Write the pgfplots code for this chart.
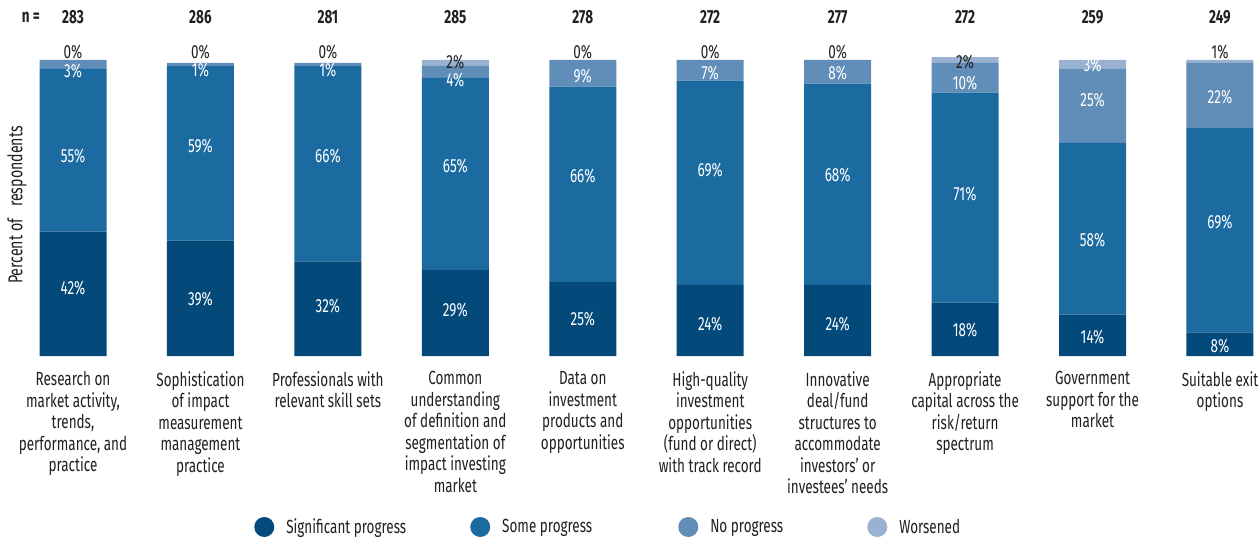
\documentclass[border=0pt]{standalone}
\usepackage{fontspec}
\setmainfont{Fira Sans}[FakeStretch=0.71]
\usepackage{pgfplots}
\usepackage{pgfplotstable}
\pgfplotsset{compat=1.18}

\definecolor{csig}{HTML}{03497A}
\definecolor{csome}{HTML}{1B6BA0}
\definecolor{cno}{HTML}{618DB9}
\definecolor{cworse}{HTML}{9AB2D1}
\definecolor{ctext}{HTML}{231F20}

\pgfplotstableread{
x sig some no worse n
0 42 55 3 0 283
1 39 59 1 0 286
2 32 66 1 0 281
3 29 65 4 2 285
4 25 66 9 0 278
5 24 69 7 0 272
6 24 68 8 0 277
7 18 71 10 2 272
8 14 58 25 3 259
9 8 69 22 1 249
}\progress

% label positions (y in percent) for the white labels inside the bars
\pgfplotstableread{
x y v
0 23.0 42
1 19.3 39
2 16.9 32
3 15.5 29
4 12.5 25
5 10.8 24
6 10.8 24
7 8.8 18
8 6.4 14
9 3.4 8
0 67.6 55
1 70.9 59
2 67.6 66
3 64.2 65
4 60.8 66
5 62.8 69
6 61.1 68
7 54.7 71
8 39.2 58
9 45.3 69
0 96.3 3
1 96.6 1
2 96.6 1
3 93.2 4
4 94.6 9
5 95.6 7
6 95.6 8
7 92.2 10
8 86.5 25
9 87.5 22
8 98.3 3
}\whitelabels

% black labels on top of the bars
\pgfplotstableread{
x y v
0 102.7 0
1 102.7 0
2 102.7 0
3 99.3 2
4 102.7 0
5 102.7 0
6 102.7 0
7 99.3 2
9 102.7 1
}\blacklabels

\pgfplotsset{
  base/.style={
    scale only axis, width=1248.96pt, height=296pt,
    at={(9.28pt,185pt)}, anchor=south west,
    xmin=-0.5, xmax=9.3, ymin=0, ymax=100,
    clip=false, axis line style={draw=none},
    ytick=\empty, major tick length=0pt,
  },
  lbl/.style={draw=none, mark=none, nodes near coords={\pgfplotspointmeta\%},
    point meta=explicit symbolic,
    every node near coord/.append style={anchor=center, font=\fontsize{19}{21}\selectfont, inner sep=0pt}},
}

\begin{document}
\begin{tikzpicture}
\useasboundingbox (0,0) rectangle (1260pt,541pt);
\begin{axis}[base,
  ybar stacked, bar width=67pt,
  xtick={0,...,9},
  xticklabels={
    {Research on\\market activity,\\trends,\\performance, and\\practice},
    {Sophistication\\of impact\\measurement\\management\\practice},
    {Professionals with\\relevant skill sets},
    {Common\\understanding\\of definition and\\segmentation of\\impact investing\\market},
    {Data on\\investment\\products and\\opportunities},
    {High-quality\\investment\\opportunities\\(fund or direct)\\with track record},
    {Innovative\\deal/fund\\structures to\\accommodate\\investors’ or\\investees’ needs},
    {Appropriate\\capital across the\\risk/return\\spectrum},
    {Government\\support for the\\market},
    {Suitable exit\\options}},
  xticklabel style={align=center, anchor=north, yshift=-12pt, text=ctext,
    font=\fontsize{19}{21.5}\selectfont},
  legend columns=4,
  legend style={draw=none, at={(0.196,-0.5777)}, anchor=west, inner sep=0pt,
    font=\fontsize{19}{21}\selectfont, text=ctext,
    /tikz/every odd column/.append style={column sep=10pt},
    /tikz/column 2/.style={column sep=62pt},
    /tikz/column 4/.style={column sep=84pt},
    /tikz/column 6/.style={column sep=82pt}},
]
\addplot[fill=csig, draw=none, legend image code/.code={\fill[csig] (0pt,0pt) circle (10pt);}]
  table[x=x, y=sig] {\progress};
\addlegendentry{Significant progress}
\addplot[fill=csome, draw=none, legend image code/.code={\fill[csome] (0pt,0pt) circle (10pt);}]
  table[x=x, y=some] {\progress};
\addlegendentry{Some progress}
\addplot[fill=cno, draw=none, legend image code/.code={\fill[cno] (0pt,0pt) circle (10pt);}]
  table[x=x, y=no] {\progress};
\addlegendentry{No progress}
\addplot[fill=cworse, draw=none, legend image code/.code={\fill[cworse] (0pt,0pt) circle (10pt);}]
  table[x=x, y=worse] {\progress};
\addlegendentry{Worsened}
\end{axis}

\begin{axis}[base, hide axis]
\addplot[lbl, every node near coord/.append style={text=white}]
  table[x=x, y=y, meta=v] {\whitelabels};
\addplot[lbl, every node near coord/.append style={text=ctext}]
  table[x=x, y=y, meta=v] {\blacklabels};
% sample sizes above the bars
\addplot[draw=none, mark=none, nodes near coords={\pgfplotspointmeta}, point meta=explicit symbolic,
  every node near coord/.append style={anchor=center, text=ctext, inner sep=0pt,
    font=\bfseries\fontsize{19}{21}\selectfont}]
  table[x=x, y expr=114.5, meta=n] {\progress};
\node[text=ctext, font=\bfseries\fontsize{19}{21}\selectfont, anchor=center]
  at (axis cs:-0.33,114.5) {n =};
\node[text=ctext, rotate=90, font=\fontsize{20}{22}\selectfont, anchor=center]
  at (axis cs:-0.44,51) {Percent of\hspace{0.6em}respondents};
\end{axis}
\end{tikzpicture}
\end{document}
